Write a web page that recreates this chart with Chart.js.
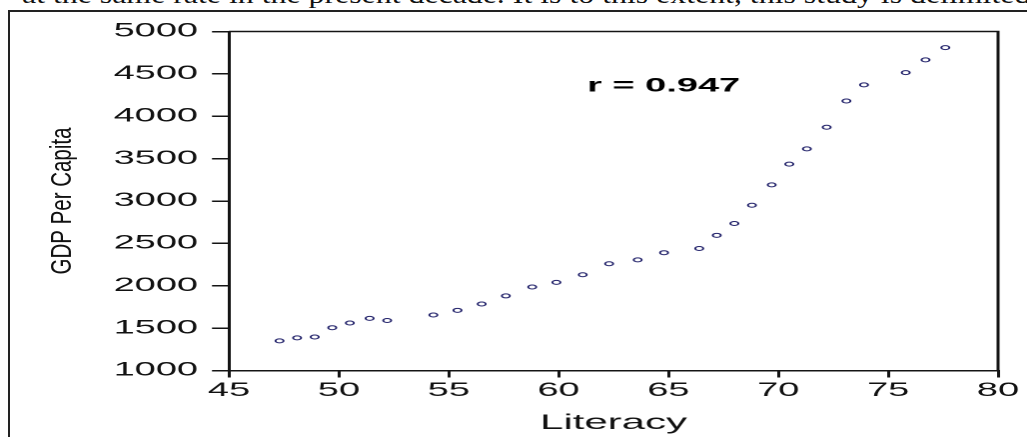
<!DOCTYPE html>
<html>
<head>
<meta charset="utf-8">
<script src="https://cdn.jsdelivr.net/npm/chart.js@4/dist/chart.umd.min.js"></script>
<style>
html, body { margin:0; padding:0; background:#fff; overflow:hidden; }
#page { position:relative; width:1027px; height:437px; overflow:hidden; background:#fff; }
#cut { position:absolute; left:22px; top:-18px; font-family:"Liberation Serif", serif; font-size:26px; line-height:26px; white-space:nowrap; color:#111; transform:scaleX(1.225); transform-origin:0 0; }
#frame { position:absolute; left:8px; top:10px; width:1040px; height:450px; border-top:2px solid #222; border-left:2px solid #222; }
#myChart { position:absolute; left:0; top:0; }
</style>
</head>
<body>
<div id="page">
<div id="cut">at the same rate in the present decade. It is to this extent, this study is delimited</div>
<div id="frame"></div>
<canvas id="myChart" width="514" height="437" style="width:1027px;height:437px"></canvas>
</div>
<script>
// values
var literacy = [47.3, 48.1, 48.9, 49.7, 50.5, 51.4, 52.2, 54.3, 55.4, 56.5, 57.6, 58.8, 59.9, 61.1, 62.3,
                63.6, 64.8, 66.4, 67.2, 68.0, 68.8, 69.7, 70.5, 71.3, 72.2, 73.1, 73.9, 75.8, 76.7, 77.6];
var gdp = [1350, 1385, 1395, 1505, 1560, 1615, 1590, 1655, 1710, 1785, 1880, 1985, 2040, 2130, 2260,
           2305, 2390, 2440, 2595, 2735, 2950, 3190, 3435, 3615, 3870, 4180, 4370, 4515, 4665, 4810];
var xTicks = [45, 50, 55, 60, 65, 70, 75, 80];
var yTicks = [1000, 1500, 2000, 2500, 3000, 3500, 4000, 4500, 5000];
var rText = 'r = 0.947';
var rPos = [61.3, 4355];

// the scan is stretched sideways, so the canvas is drawn narrow and stretched by css
var S = 1027 / 514;
var ink = '#141414';

var extras = {
  id: 'extras',
  afterDraw: function(chart) {
    var ctx = chart.ctx, a = chart.chartArea;
    ctx.save();
    // top and right frame lines
    ctx.strokeStyle = ink;
    ctx.lineWidth = 1.5;
    ctx.beginPath();
    ctx.moveTo(a.left, a.top);
    ctx.lineTo(a.right, a.top);
    ctx.lineTo(a.right, a.bottom);
    ctx.stroke();
    // correlation label
    ctx.fillStyle = '#000';
    ctx.font = 'bold 19px "Liberation Sans", Arial, sans-serif';
    ctx.textAlign = 'left';
    ctx.textBaseline = 'middle';
    ctx.fillText(rText, chart.scales.x.getPixelForValue(rPos[0]), chart.scales.y.getPixelForValue(rPos[1]));
    // y title, drawn without most of the sideways stretch
    ctx.translate(35.5, 201);
    ctx.scale(1.4 / S, 1);
    ctx.rotate(-Math.PI / 2);
    ctx.fillStyle = '#111';
    ctx.font = '20.5px "Liberation Sans", Arial, sans-serif';
    ctx.textAlign = 'center';
    ctx.textBaseline = 'alphabetic';
    ctx.fillText('GDP Per Capita', 0, 0);
    ctx.restore();
  }
};

var ctx = document.getElementById('myChart').getContext('2d');
var chart = new Chart(ctx, {
  type: 'scatter',
  data: {
    datasets: [{
      data: literacy.map(function(v, i) { return {x: v, y: gdp[i]}; }),
      pointStyle: 'circle',
      pointRadius: 2,
      pointBorderWidth: 1,
      borderColor: '#23236b',
      backgroundColor: 'rgba(255,255,255,0)',
      showLine: false
    }]
  },
  options: {
    responsive: false,
    devicePixelRatio: 2,
    animation: false,
    layout: { padding: { left: 0, top: 31.5, right: 14.5, bottom: 0 } },
    plugins: { legend: { display: false }, tooltip: { enabled: false } },
    scales: {
      x: {
        type: 'linear',
        min: 45, max: 80,
        afterBuildTicks: function(s) { s.ticks = xTicks.map(function(v) { return {value: v}; }); },
        afterFit: function(s) { s.height = 66.5; },
        border: { display: true, color: ink, width: 1.5 },
        grid: { drawOnChartArea: false, drawTicks: true, tickLength: 7, color: ink, lineWidth: 1.5 },
        ticks: { color: '#111', padding: 2, maxRotation: 0,
                 callback: function(v) { return String(v); },
                 font: { family: '"Liberation Sans", Arial, sans-serif', size: 19 } },
        title: { display: true, text: 'Literacy', color: '#111', padding: { top: 0, bottom: 1 },
                 font: { family: '"Liberation Sans", Arial, sans-serif', size: 21 } }
      },
      y: {
        type: 'linear',
        min: 1000, max: 5000,
        afterBuildTicks: function(s) { s.ticks = yTicks.map(function(v) { return {value: v}; }); },
        afterFit: function(s) { s.width = 114.6; },
        border: { display: true, color: ink, width: 1.5 },
        grid: { drawOnChartArea: false, drawTicks: true, tickLength: 8.5, color: ink, lineWidth: 1.5 },
        ticks: { color: '#111', padding: 7,
                 callback: function(v) { return String(v); },
                 font: { family: '"Liberation Sans", Arial, sans-serif', size: 19 } }
      }
    }
  },
  plugins: [extras]
});
</script>
</body>
</html>
